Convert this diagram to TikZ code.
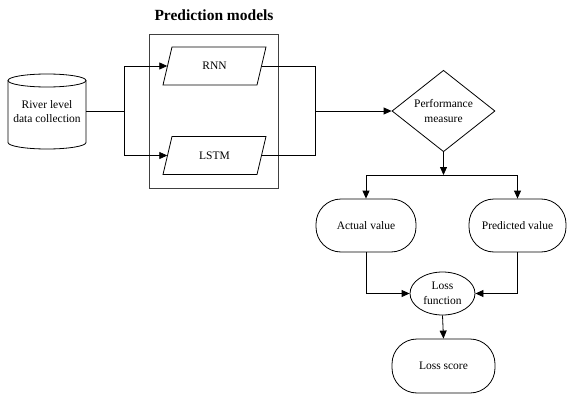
\documentclass[tikz,border=0pt]{standalone}
\usepackage{fontspec}
\setmainfont{Liberation Serif}
\usetikzlibrary{shapes.geometric,arrows.meta}
\begin{document}
\begin{tikzpicture}[x=1pt,y=-1pt,
  every node/.style={font=\fontsize{11.5}{14.5}\selectfont, align=center, inner sep=0pt},
  line/.style={draw=black, line width=0.8pt},
  arr/.style={line, -{Triangle[length=8pt,width=7pt]}},
  roundbox/.style={draw, line width=0.8pt, rounded corners=25pt, minimum width=100pt, minimum height=53pt},
  parabox/.style={minimum width=94pt, minimum height=38pt}
]
\useasboundingbox (0,0) rectangle (568,396);

% title and group frame
\node[font=\fontsize{15.5}{18}\selectfont\bfseries] (title) at (214,15) {Prediction models};
\node[draw=black!75, line width=1pt, minimum width=129pt, minimum height=153pt] (grp) at (213.5,111.5) {};

% data source (cylinder)
\node[minimum width=78pt, minimum height=75pt] (cyl) at (47,111.5) {River level\\data collection};
\draw[line] (47,80.5) ellipse [x radius=39pt, y radius=6.5pt];
\draw[line] (8,80.5) -- (8,142.5) arc[start angle=180, end angle=360, x radius=39pt, y radius=6.5pt] -- (86,80.5);

% prediction models (parallelograms)
\node[parabox] (rnn) at (214.5,66) {RNN};
\node[parabox] (lstm) at (214.5,155.5) {LSTM};
\foreach \m in {rnn,lstm}{
  \draw[line] ([shift={(-51.5,19)}]\m.center) -- ([shift={(-42.5,-19)}]\m.center)
    -- ([shift={(51.5,-19)}]\m.center) -- ([shift={(42.5,19)}]\m.center) -- cycle;
}

% evaluation
\node[draw, diamond, line width=0.8pt, minimum width=103pt, minimum height=76pt] (perf) at (443.5,111) {Performance\\measure};
\node[roundbox] (act) at (366,225.5) {Actual value};
\node[roundbox, minimum width=97pt] (pred) at (517.5,225.5) {Predicted value};
\node[draw, ellipse, line width=0.8pt, minimum width=65pt, minimum height=43pt] (loss) at (442.5,293.5) {Loss\\function};
\node[roundbox, minimum width=103pt, minimum height=54pt] (score) at (443.5,366) {Loss score};

% junction points
\coordinate (j1) at (124,111.5);
\coordinate (j2) at (315,111);
\coordinate (j3) at (443.5,175);

% connectors
\draw[line] (cyl.east) -- (j1);
\draw[arr] (j1) |- (rnn.west);
\draw[arr] (j1) |- (lstm.west);
\draw[line] (rnn.east) -| (j2);
\draw[line] (lstm.east) -| (j2);
\draw[arr] (j2) -- (perf.west);
\draw[arr] (perf.south) -- (j3);
\draw[arr] (j3) -| (act.north);
\draw[arr] (j3) -| (pred.north);
\draw[arr] (act.south) |- (loss.west);
\draw[arr] (pred.south) |- (loss.east);
\draw[arr] (loss.south) -- (score.north);
\end{tikzpicture}
\end{document}
